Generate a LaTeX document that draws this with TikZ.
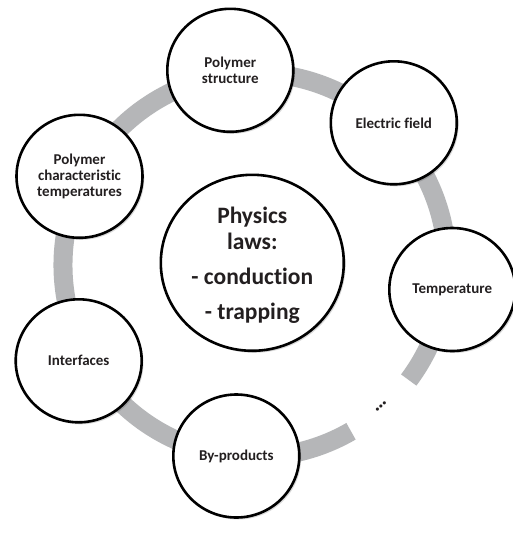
\documentclass[tikz,border=0pt]{standalone}
\usepackage{fontspec}
\setmainfont{Carlito}[Ligatures=NoCommon]
\usetikzlibrary{shapes.geometric,shadows}
\definecolor{ringgray}{RGB}{181,182,184}
\definecolor{txt}{RGB}{35,31,32}
\begin{document}
\begin{tikzpicture}[x=1pt,y=-1pt,
  bubble/.style={ellipse, draw=black, line width=2.6pt, fill=white,
    minimum width=126pt, minimum height=123pt, inner sep=0pt, align=center,
    font=\fontsize{15}{16}\selectfont\bfseries, text=txt,
    drop shadow={shadow xshift=1.8pt, shadow yshift=-2pt, opacity=0.15, fill=black}},
  hub/.style={bubble, minimum width=183pt, minimum height=176pt,
    font=\fontsize{23.5}{25.7}\selectfont\bfseries},
  ringline/.style={draw=ringgray, line width=19pt}]
\useasboundingbox (0,0) rectangle (512,533);
\fill[white] (0,0) rectangle (512,533);
\coordinate (ringc) at (255,265);
\draw[ringline] (ringc) ++(60:192) arc[start angle=60, end angle=396.8, radius=192];
\node[hub] (hub) at (252.3,262.8) {};
\node[font=\fontsize{23.5}{25.7}\selectfont\bfseries, text=txt, align=center, inner sep=0pt] (hubtext) at (252.3,265) {Physics\\laws:\\[9.3pt]- conduction\\[9.3pt]- trapping};
\node[bubble] (struct) at (230.3,70.3) {Polymer\\structure};
\node[bubble] (field) at (393.8,122.8) {Electric field};
\node[bubble] (temp) at (452.3,289.5) {Temperature};
\node[bubble] (chartemp) at (79.5,176.3) {Polymer\\characteristic\\temperatures};
\node[bubble] (interf) at (78.7,360.8) {Interfaces};
\node[bubble] (byprod) at (236.3,456) {By-products};
\node[font=\fontsize{21}{21}\selectfont\bfseries, text=txt, rotate=42, inner sep=0pt] (more) at (381,406) {…};
\end{tikzpicture}
\end{document}
